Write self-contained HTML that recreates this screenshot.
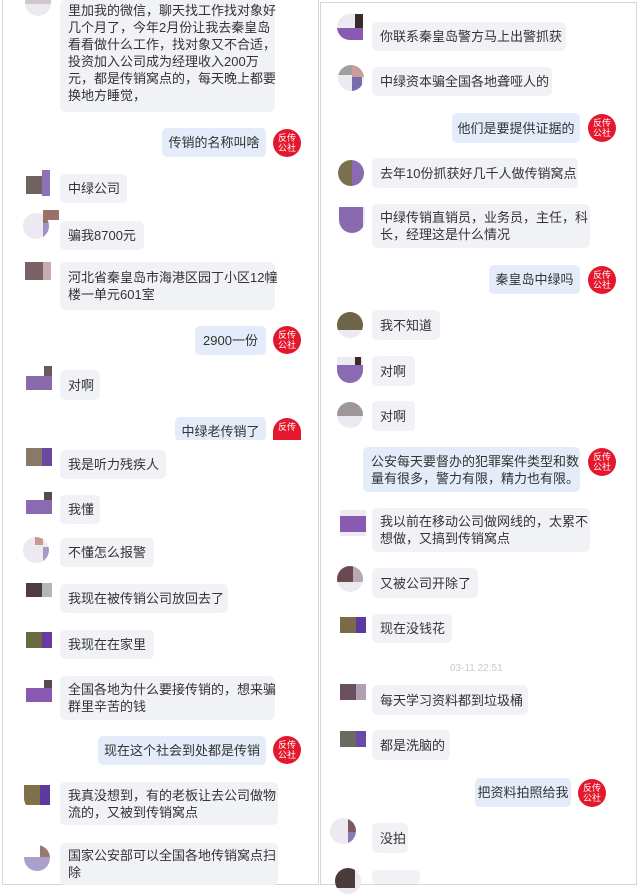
<!DOCTYPE html>
<html><head><meta charset="utf-8"><style>
*{margin:0;padding:0;box-sizing:border-box}
body{width:640px;height:887px;background:#fff;position:relative;overflow:hidden;font-family:"Liberation Sans","Noto Sans CJK SC",sans-serif;font-size:13px;color:#333}
.p{position:absolute;border:1px solid #d6d6d6;background:#fff;overflow:hidden}
.b{position:absolute;background:#f1f2f6;border-radius:5px;padding:0 8px;line-height:17px;display:flex;flex-direction:column;justify-content:center;white-space:nowrap;color:#333}
.m{background:#e3ecf8;align-items:center}
.a{position:absolute;width:26px;height:26px;border-radius:50%;overflow:hidden;background:#ece9f0}
.a i{position:absolute;display:block}
.l{position:absolute;width:28px;height:28px;border-radius:50%;background:#e4172c;color:#fff;font-size:9px;line-height:10px;text-align:center;padding-top:4px}
.t{position:absolute;color:#c8cad0;font-size:10px}
</style></head><body>
<div class="p" style="left:2px;top:0;width:317px;height:885px;border-top:none"></div>
<div class="p" style="left:320px;top:2px;width:317px;height:883px"></div>

<!-- LEFT -->
<div class="a" style="left:25px;top:-10px"><i style="left:0;top:0;width:26px;height:14px;background:#cfc6cf"></i></div>
<div class="b" style="left:60px;top:0;width:215px;height:112px;justify-content:flex-end;padding-bottom:8px"><span>里加我的微信，聊天找工作找对象好</span><span>几个月了，今年2月份让我去秦皇岛</span><span>看看做什么工作，找对象又不合适，</span><span>投资加入公司成为经理收入200万</span><span>元，都是传销窝点的，每天晚上都要</span><span>换地方睡觉，</span></div>
<div class="b m" style="left:162px;top:128px;width:104px;height:29px">传销的名称叫啥</div>
<div class="l" style="left:273px;top:129px">反传<br>公社</div>

<div class="a" style="left:26px;top:170px;border-radius:0;background:#fff"><i style="left:0;top:6px;width:16px;height:18px;background:#6f6260"></i><i style="left:16px;top:0;width:8px;height:26px;background:#8b72b5"></i></div>
<div class="b" style="left:60px;top:174px;width:67px;height:29px">中绿公司</div>

<div class="a" style="left:23px;top:213px"><i style="left:20px;top:0;width:6px;height:10px;background:#9a7068"></i><i style="left:20px;top:10px;width:6px;height:14px;background:#9e91c6"></i></div>
<div class="a" style="left:43px;top:210px;width:16px;height:10px;border-radius:0;background:#9a7068"></div>
<div class="b" style="left:60px;top:221px;width:84px;height:29px">骗我8700元</div>

<div class="a" style="left:25px;top:262px;border-radius:0;background:#fff"><i style="left:0;top:0;width:18px;height:18px;background:#7a6266"></i><i style="left:18px;top:0;width:10px;height:18px;background:#c8aab0"></i></div>
<div class="b" style="left:60px;top:262px;width:215px;height:48px">河北省秦皇岛市海港区园丁小区12幢<br>楼一单元601室</div>

<div class="b m" style="left:195px;top:326px;width:71px;height:29px">2900一份</div>
<div class="l" style="left:273px;top:326px">反传<br>公社</div>

<div class="a" style="left:26px;top:366px;border-radius:0;background:#fff"><i style="left:18px;top:0;width:8px;height:10px;background:#6a5a60"></i><i style="left:0;top:10px;width:34px;height:14px;background:#8a6aaa"></i></div>
<div class="b" style="left:60px;top:370px;width:40px;height:30px">对啊</div>

<div class="b m" style="left:175px;top:417px;width:91px;height:24px;justify-content:flex-start;padding-top:6px">中绿老传销了</div>
<div class="l" style="left:273px;top:418px;height:22px;border-radius:14px 14px 0 0">反传</div>
<div style="position:absolute;left:3px;top:440px;width:315px;height:2px;background:#fff"></div>

<div class="a" style="left:26px;top:448px;border-radius:0;background:#fff"><i style="left:0;top:0;width:16px;height:18px;background:#8b7866"></i><i style="left:16px;top:0;width:16px;height:18px;background:#6a4aa0"></i></div>
<div class="b" style="left:60px;top:450px;width:106px;height:29px">我是听力残疾人</div>

<div class="a" style="left:26px;top:492px;border-radius:0;background:#fff"><i style="left:18px;top:0;width:8px;height:8px;background:#5a4a50"></i><i style="left:0;top:8px;width:34px;height:14px;background:#8a6ab2"></i></div>
<div class="b" style="left:60px;top:495px;width:40px;height:29px">我懂</div>

<div class="a" style="left:23px;top:537px"><i style="left:20px;top:10px;width:6px;height:16px;background:#a898c8"></i><i style="left:12px;top:0;width:8px;height:8px;background:#c89a90"></i></div>
<div class="b" style="left:60px;top:538px;width:94px;height:29px">不懂怎么报警</div>

<div class="a" style="left:26px;top:583px;border-radius:0;background:#fff"><i style="left:0;top:0;width:16px;height:14px;background:#4e3e3e"></i><i style="left:16px;top:0;width:10px;height:14px;background:#b0b8b8"></i></div>
<div class="b" style="left:60px;top:584px;width:168px;height:29px">我现在被传销公司放回去了</div>

<div class="a" style="left:26px;top:632px;border-radius:0;background:#fff"><i style="left:0;top:0;width:16px;height:16px;background:#6a6a40"></i><i style="left:16px;top:0;width:16px;height:16px;background:#6a3aa0"></i></div>
<div class="b" style="left:60px;top:630px;width:94px;height:29px">我现在在家里</div>

<div class="a" style="left:26px;top:680px;border-radius:0;background:#fff"><i style="left:18px;top:0;width:8px;height:8px;background:#5a4a4a"></i><i style="left:0;top:8px;width:34px;height:14px;background:#8a5ab2"></i></div>
<div class="b" style="left:60px;top:676px;width:215px;height:44px">全国各地为什么要接传销的，想来骗<br>群里辛苦的钱</div>

<div class="b m" style="left:98px;top:736px;width:168px;height:29px">现在这个社会到处都是传销</div>
<div class="l" style="left:273px;top:736px">反传<br>公社</div>

<div class="a" style="left:24px;top:785px;border-radius:0 0 0 50%;background:#fff"><i style="left:0;top:0;width:16px;height:20px;background:#7e7048"></i><i style="left:16px;top:0;width:10px;height:20px;background:#5a3aa0"></i></div>
<div class="b" style="left:60px;top:782px;width:218px;height:43px">我真没想到，有的老板让去公司做物<br>流的，又被到传销窝点</div>

<div class="a" style="left:24px;top:845px;background:#fff"><i style="left:16px;top:0;width:10px;height:12px;background:#9a7a70"></i><i style="left:0;top:12px;width:26px;height:14px;background:#aaa0cc"></i></div>
<div class="b" style="left:60px;top:843px;width:218px;height:42px">国家公安部可以全国各地传销窝点扫<br>除</div>

<!-- RIGHT -->
<div class="a" style="left:337px;top:14px;border-radius:50% 0 0 50%"><i style="left:18px;top:0;width:8px;height:14px;background:#3a2a2a"></i><i style="left:0;top:14px;width:26px;height:14px;background:#8a5ab2"></i></div>
<div class="b" style="left:372px;top:22px;width:194px;height:29px">你联系秦皇岛警方马上出警抓获</div>

<div class="a" style="left:338px;top:65px"><i style="left:0;top:0;width:14px;height:10px;background:#a0a0a0"></i><i style="left:14px;top:0;width:12px;height:12px;background:#c8a098"></i><i style="left:14px;top:12px;width:10px;height:14px;background:#7a6ab0"></i></div>
<div class="b" style="left:372px;top:67px;width:180px;height:29px">中绿资本骗全国各地聋哑人的</div>

<div class="b m" style="left:452px;top:113px;width:128px;height:30px">他们是要提供证据的</div>
<div class="l" style="left:588px;top:114px">反传<br>公社</div>

<div class="a" style="left:338px;top:160px"><i style="left:0;top:0;width:14px;height:26px;background:#7a7050"></i><i style="left:14px;top:0;width:12px;height:26px;background:#8a6ab2"></i></div>
<div class="b" style="left:372px;top:158px;width:206px;height:30px">去年10份抓获好几千人做传销窝点</div>

<div class="a" style="left:339px;top:207px;border-radius:0 0 50% 50%"><i style="left:0;top:0;width:24px;height:26px;background:#8a6aae"></i></div>
<div class="b" style="left:372px;top:204px;width:218px;height:44px">中绿传销直销员，业务员，主任，科<br>长，经理这是什么情况</div>

<div class="b m" style="left:489px;top:265px;width:91px;height:29px">秦皇岛中绿吗</div>
<div class="l" style="left:588px;top:266px">反传<br>公社</div>

<div class="a" style="left:337px;top:312px"><i style="left:0;top:0;width:26px;height:18px;background:#6e6448"></i></div>
<div class="b" style="left:372px;top:310px;width:68px;height:30px">我不知道</div>

<div class="a" style="left:337px;top:357px;border-radius:0 0 50% 50%"><i style="left:0;top:8px;width:26px;height:18px;background:#8a6ab2"></i><i style="left:18px;top:0;width:6px;height:8px;background:#3a2a2a"></i></div>
<div class="b" style="left:372px;top:356px;width:43px;height:30px">对啊</div>

<div class="a" style="left:337px;top:402px"><i style="left:0;top:0;width:26px;height:14px;background:#a09898"></i></div>
<div class="b" style="left:372px;top:401px;width:43px;height:30px">对啊</div>

<div class="b m" style="left:363px;top:447px;width:217px;height:45px;align-items:flex-start">公安每天要督办的犯罪案件类型和数<br>量有很多，警力有限，精力也有限。</div>
<div class="l" style="left:588px;top:448px">反传<br>公社</div>

<div class="a" style="left:340px;top:510px;border-radius:0"><i style="left:0;top:6px;width:26px;height:16px;background:#8a5ab2"></i></div>
<div class="b" style="left:372px;top:508px;width:218px;height:44px">我以前在移动公司做网线的，太累不<br>想做，又搞到传销窝点</div>

<div class="a" style="left:337px;top:566px"><i style="left:0;top:0;width:16px;height:16px;background:#6a4a50"></i><i style="left:16px;top:0;width:10px;height:16px;background:#b8a8b0"></i></div>
<div class="b" style="left:372px;top:568px;width:106px;height:30px">又被公司开除了</div>

<div class="a" style="left:340px;top:617px;border-radius:0;background:#fff"><i style="left:0;top:0;width:16px;height:16px;background:#7a6a48"></i><i style="left:16px;top:0;width:10px;height:16px;background:#5a3aa0"></i></div>
<div class="b" style="left:372px;top:614px;width:80px;height:29px">现在没钱花</div>

<div class="t" style="left:450px;top:663px">03-11 22:51</div>

<div class="a" style="left:340px;top:684px;border-radius:0;background:#fff"><i style="left:0;top:0;width:16px;height:16px;background:#6a5060"></i><i style="left:16px;top:0;width:10px;height:16px;background:#b0a0b0"></i></div>
<div class="b" style="left:372px;top:685px;width:156px;height:30px">每天学习资料都到垃圾桶</div>

<div class="a" style="left:340px;top:731px;border-radius:0;background:#fff"><i style="left:0;top:0;width:16px;height:16px;background:#6a6a60"></i><i style="left:16px;top:0;width:10px;height:16px;background:#6a4aa8"></i></div>
<div class="b" style="left:372px;top:730px;width:78px;height:30px">都是洗脑的</div>

<div class="b m" style="left:475px;top:778px;width:96px;height:29px">把资料拍照给我</div>
<div class="l" style="left:578px;top:779px">反传<br>公社</div>

<div class="a" style="left:330px;top:818px"><i style="left:18px;top:0;width:8px;height:14px;background:#7a5a60"></i><i style="left:18px;top:14px;width:8px;height:14px;background:#8a7ab8"></i></div>
<div class="b" style="left:372px;top:823px;width:36px;height:30px">没拍</div>

<div class="a" style="left:335px;top:868px"><i style="left:0;top:0;width:20px;height:20px;background:#4a3a3a"></i></div>
<div class="b" style="left:372px;top:870px;width:48px;height:14px"></div>
</body></html>
